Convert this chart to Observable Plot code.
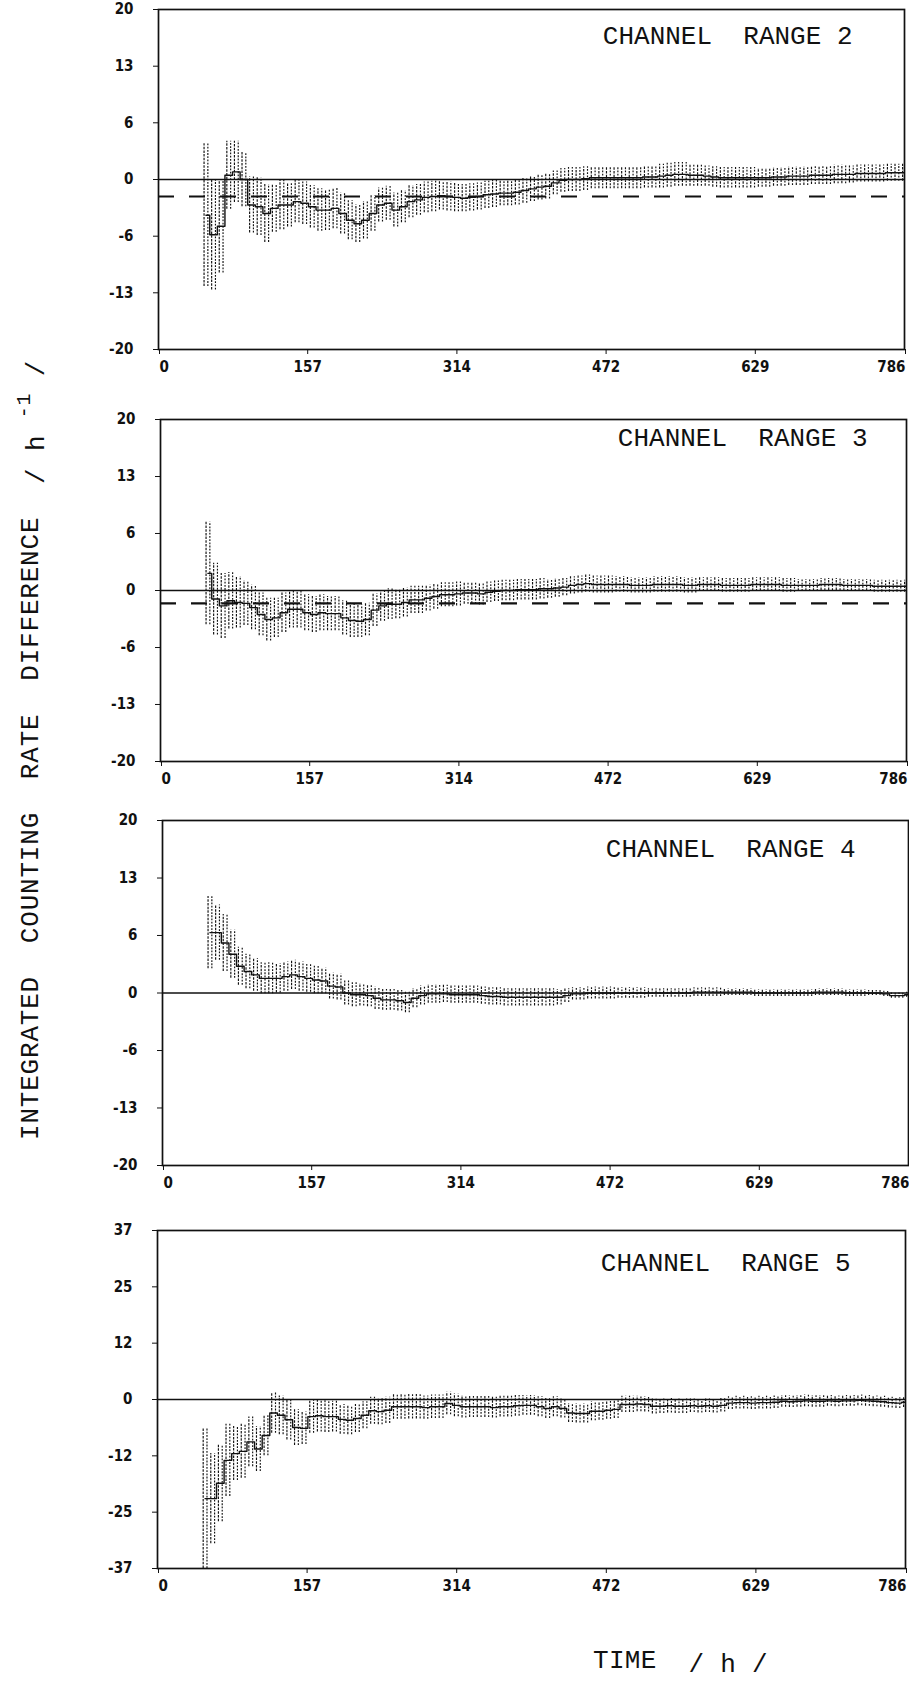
<!DOCTYPE html>
<html><head><meta charset="utf-8">
<script src="https://cdn.jsdelivr.net/npm/d3@7"></script>
<script src="https://cdn.jsdelivr.net/npm/@observablehq/plot@0.6"></script>
<style>
body{margin:0;background:#fff;}
#page{position:relative;width:909px;height:1684px;overflow:hidden;background:#fff;}
.panel{position:absolute;left:0;}
.panel svg text{white-space:pre;}
.typed{position:absolute;font-family:"Liberation Mono","DejaVu Sans Mono",monospace;font-size:26px;line-height:26px;color:#111;white-space:pre;}
#ylab{left:18px;top:1140px;transform:rotate(-90deg);transform-origin:0 0;letter-spacing:0.8px;}
#ylab .unit{position:relative;top:6px;}
#ylab sup{font-size:20px;vertical-align:0;position:relative;top:-14px;}
#xlab{left:593px;top:1648px;letter-spacing:0.3px;}
#xlab .unit{position:relative;top:4px;}
</style></head><body><div id="page"></div>
<script>
// ---- data (hours; rate difference per hour) ----
const times = [50,58,66,74,82,90,98,106,114,122,130,138,146,154,162,170,178,186,194,202,210,218,226,234,242,250,258,266,274,282,290,298,306,314,322,330,338,346,354,362,370,378,386,394,402,410,418,426,434,442,450,458,466,474,482,490,498,506,514,522,530,538,546,554,562,570,578,586,594,602,610,618,626,634,642,650,658,666,674,682,690,698,706,714,722,730,738,746,754,762,770,778,786];

const range2Center = [-4.2,-6.5,-5.5,0.5,0.9,0,-3,-3.2,-4,-3.4, -3.0,-3.0,-2.6,-2.8,-3.2,-3.6,-3.6,-3.4,-4.0,-4.8, -5.2,-4.8,-4.0,-3.0,-2.8,-3.6,-3.2,-2.6,-2.4,-2.1, -2.0,-1.9,-2.0,-2.1,-2.2,-2.1,-2.0,-1.8,-1.7,-1.6, -1.6,-1.5,-1.3,-1.1,-0.9,-0.8,-0.4,-0.1,0,0, 0.1,0.2,0.2,0.2,0.2,0.2,0.2,0.2,0.3,0.3, 0.4,0.5,0.6,0.6,0.5,0.5,0.4,0.3,0.2,0.2, 0.2,0.2,0.2,0.2,0.2,0.3,0.3,0.4,0.4,0.4, 0.5,0.5,0.5,0.6,0.6,0.6,0.7,0.7,0.7,0.7, 0.8,0.8,0.8];
const range2Error = [8.4,6.5,5.5,4.0,3.6,3.2,3.3,3.4,3.4,2.8, 2.9,2.6,2.5,2.5,2.5,2.5,2.4,2.4,2.4,2.3, 2.2,2.2,2.1,2.0,2.0,2.0,1.9,1.9,1.8,1.8, 1.8,1.7,1.7,1.7,1.6,1.6,1.6,1.6,1.6,1.5, 1.5,1.5,1.5,1.5,1.5,1.5,1.4,1.4,1.4,1.4, 1.4,1.3,1.3,1.3,1.3,1.3,1.3,1.3,1.3,1.3, 1.4,1.4,1.4,1.4,1.3,1.3,1.2,1.2,1.2,1.2, 1.2,1.2,1.2,1.1,1.1,1.1,1.1,1.1,1.1,1.1, 1.1,1.1,1.1,1.1,1.1,1.0,1.0,1.0,1.0,1.0, 1.0,1.0,1.0];

const range3Center = [2.0,-1.0,-1.8,-1.2,-1.4,-1.5,-2.0,-2.8,-3.4,-3.2, -2.6,-2.2,-2.2,-2.6,-2.8,-2.6,-2.7,-2.7,-3.2,-3.5, -3.6,-3.4,-2.3,-1.8,-1.6,-1.6,-1.4,-1.1,-1.1,-0.9, -0.7,-0.5,-0.5,-0.4,-0.3,-0.3,-0.4,-0.2,-0.1,0, 0,0.1,0.1,0.1,0.2,0.2,0.3,0.4,0.6,0.7, 0.8,0.7,0.7,0.7,0.7,0.7,0.6,0.6,0.6,0.7, 0.7,0.7,0.7,0.6,0.6,0.7,0.7,0.7,0.6,0.6, 0.6,0.6,0.7,0.7,0.7,0.7,0.6,0.6,0.6,0.6, 0.6,0.7,0.7,0.7,0.6,0.6,0.6,0.6,0.5,0.5, 0.5,0.5,0.5];
const range3Error = [6.0,4.2,3.8,3.3,3.0,2.6,2.6,2.5,2.5,2.3, 2.3,2.2,2.2,2.1,2.1,2.1,2.0,2.0,2.0,2.0, 1.9,1.9,1.9,1.8,1.8,1.7,1.7,1.6,1.6,1.5, 1.5,1.4,1.4,1.4,1.3,1.3,1.3,1.2,1.2,1.2, 1.2,1.2,1.2,1.2,1.2,1.1,1.1,1.0,1.0,1.0, 1.0,1.0,1.0,1.0,0.9,0.9,0.9,0.9,0.9,0.9, 0.9,0.9,0.9,0.9,0.9,0.8,0.8,0.8,0.8,0.8, 0.8,0.8,0.8,0.8,0.8,0.8,0.8,0.8,0.7,0.7, 0.7,0.7,0.7,0.7,0.7,0.7,0.7,0.7,0.7,0.7, 0.7,0.7,0.7];

const range4Center = [7.0,7.0,5.8,4.5,3.1,2.5,2.1,1.7,1.7,1.7, 1.9,2.1,1.9,1.7,1.5,1.4,0.8,0.7,0,-0.2, -0.2,-0.3,-0.6,-0.8,-0.8,-0.9,-1.1,-0.6,-0.3,-0.1, -0.1,-0.1,-0.2,-0.2,-0.2,-0.2,-0.3,-0.4,-0.4,-0.5, -0.5,-0.5,-0.5,-0.5,-0.5,-0.5,-0.5,-0.3,-0.1,-0.1, 0,0,0,0,0,0,0,0,0,0, 0,0,0,0,0.1,0.1,0.1,0.1,0.1,0.1, 0.1,0.1,0,0,0,0,0,0,0,0, 0.1,0.1,0.1,0.1,0,0,0,0,0,-0.1, -0.3,-0.3,-0.2];
const range4Error = [4.2,3.2,3.3,2.8,2.2,2.0,1.9,1.8,1.8,1.7, 1.7,1.7,1.7,1.6,1.6,1.5,1.5,1.5,1.4,1.4, 1.3,1.3,1.3,1.2,1.2,1.2,1.2,1.1,1.1,1.1, 1.1,1.0,1.0,1.0,1.0,1.0,1.0,1.0,1.0,1.0, 1.0,1.0,1.0,1.0,1.0,1.0,0.9,0.8,0.7,0.7, 0.7,0.7,0.7,0.7,0.6,0.6,0.6,0.6,0.5,0.5, 0.5,0.5,0.5,0.5,0.5,0.5,0.5,0.5,0.4,0.4, 0.4,0.4,0.4,0.4,0.4,0.4,0.4,0.4,0.4,0.4, 0.4,0.4,0.4,0.4,0.4,0.4,0.4,0.3,0.3,0.3, 0.3,0.3,0.3];

const range5Center = [-22,-22,-18.6,-13.5,-12,-11.5,-9.4,-11,-8,-3, -3.5,-4.5,-6.2,-6.4,-3.8,-3.6,-3.8,-3.8,-4.4,-4.6, -4.2,-3.5,-2.5,-2.7,-2.4,-1.6,-1.6,-1.6,-1.6,-1.8, -1.6,-1.6,-0.9,-1.3,-1.6,-1.6,-1.6,-1.6,-1.8,-1.6, -1.6,-1.4,-1.3,-1.3,-1.6,-2.0,-1.6,-2.0,-3.0,-3.1, -3.1,-2.6,-2.6,-2.4,-2.2,-1.1,-1.1,-1.0,-1.1,-1.5, -1.5,-1.4,-1.5,-1.5,-1.4,-1.5,-1.4,-1.5,-1.3,-0.8, -0.7,-0.7,-0.8,-0.7,-0.7,-0.6,-0.4,-0.5,-0.4,-0.3, -0.4,-0.4,-0.3,-0.4,-0.3,-0.3,-0.2,-0.3,-0.4,-0.5, -0.7,-0.8,-0.6];
const range5Error = [15.5,10,8.5,8,6,6,5.5,5,4.5,4.5, 4.3,4.5,4,3.6,3.7,3.6,3.5,3.4,3.3,3.2, 3.1,3.0,3.0,2.9,2.9,2.8,2.8,2.7,2.7,2.6, 2.6,2.6,2.5,2.5,2.5,2.4,2.4,2.4,2.3,2.3, 2.3,2.3,2.2,2.2,2.2,2.2,2.2,2.1,2.1,2.1, 2.1,2.1,2.0,2.0,2.0,1.8,1.8,1.7,1.7,1.7, 1.6,1.6,1.6,1.6,1.5,1.5,1.5,1.5,1.5,1.4, 1.4,1.4,1.4,1.4,1.4,1.4,1.3,1.3,1.3,1.3, 1.3,1.3,1.2,1.2,1.2,1.2,1.2,1.2,1.2,1.2, 1.2,1.2,1.2];

const panelTitles = ["CHANNEL  RANGE 2", "CHANNEL  RANGE 3", "CHANNEL  RANGE 4", "CHANNEL  RANGE 5"];
const referenceLevels = [-2, -1.5, null, null];   // dashed lines
const yTicksSmall = [-20, -13.33, -6.67, 0, 6.67, 13.33, 20];
const yTickLabelsSmall = ["-20", "-13", "-6", "0", "6", "13", "20"];
const yTicksLarge = [-37.5, -25, -12.5, 0, 12.5, 25, 37.5];
const yTickLabelsLarge = ["-37", "-25", "-12", "0", "12", "25", "37"];
const xTicks = [0, 157.2, 314.4, 471.6, 628.8, 786];
const xTickLabels = ["0", "157", "314", "472", "629", "786"];
const yAxisTitle = "INTEGRATED  COUNTING  RATE  DIFFERENCE  ";
const yAxisUnit = ["/ h ", "-1", " /"];
const xAxisTitle = "TIME  ";
const xAxisUnit = "/ h /";

// ---- layout ----
const series = [
  {center: range2Center, error: range2Error, ticks: yTicksSmall, labels: yTickLabelsSmall, top: 0,    mt: 9,  inner: 340, ml: 158, mr: 5, tdx: -52, tdy: 16},
  {center: range3Center, error: range3Error, ticks: yTicksSmall, labels: yTickLabelsSmall, top: 400,  mt: 19, inner: 342, ml: 160, mr: 3, tdx: -39, tdy: 8},
  {center: range4Center, error: range4Error, ticks: yTicksSmall, labels: yTickLabelsSmall, top: 800,  mt: 20, inner: 345, ml: 162, mr: 1, tdx: -53, tdy: 18},
  {center: range5Center, error: range5Error, ticks: yTicksLarge, labels: yTickLabelsLarge, top: 1210, mt: 20, inner: 338, ml: 157, mr: 4, tdx: -55, tdy: 22}
];
const narrow = "'Liberation Sans Narrow','Arial Narrow','DejaVu Sans Condensed',sans-serif";
const mono = "'Liberation Mono','DejaVu Sans Mono',monospace";
const ink = "#111";
const page = document.getElementById("page");
const xLabelMap = new Map(xTicks.map((v, i) => [v, xTickLabels[i]]));
const xFirst = xTicks.slice(0, 1), xMiddle = xTicks.slice(1, -1), xLast = xTicks.slice(-1);

series.forEach((p, k) => {
  const rows = times.map((t, i) => ({t, c: p.center[i], lo: p.center[i] - p.error[i], hi: p.center[i] + p.error[i]}));
  const yLabelMap = new Map(p.ticks.map((v, i) => [v, p.labels[i]]));
  const ymax = p.ticks[p.ticks.length - 1];
  const xAxisOpts = {tickSize: 5, tickPadding: 7, tickFormat: d => xLabelMap.get(d), fontSize: 15, fontFamily: narrow, fontWeight: "bold", label: null};
  const marks = [
    Plot.ruleY([0], {stroke: ink, strokeWidth: 1.4}),
    Plot.ruleX(rows, {x: "t", y1: "lo", y2: "hi", stroke: ink, strokeWidth: 1.15, strokeDasharray: "2.5,1.2", dx: -1.9, clip: true}),
    Plot.ruleX(rows, {x: "t", y1: "lo", y2: "hi", stroke: ink, strokeWidth: 1.15, strokeDasharray: "1.8,1.4", dx: 1.9, clip: true}),
    Plot.line(rows, {x: "t", y: "c", curve: "step", stroke: ink, strokeWidth: 1.4, clip: true}),
    Plot.frame({stroke: ink, strokeWidth: 1.7}),
    Plot.axisY(p.ticks, {tickSize: 5, tickPadding: 20, tickFormat: d => yLabelMap.get(d), fontSize: 15, fontFamily: narrow, fontWeight: "bold", label: null}),
    Plot.axisX(xFirst, {...xAxisOpts, textAnchor: "start", dx: 1}),
    Plot.axisX(xMiddle, xAxisOpts),
    Plot.axisX(xLast, {...xAxisOpts, textAnchor: "end", dx: 1}),
    Plot.text([panelTitles[k]], {frameAnchor: "top-right", textAnchor: "end", lineAnchor: "top", dx: p.tdx, dy: p.tdy, fontSize: 26, fontFamily: mono, fill: ink})
  ];
  if (referenceLevels[k] !== null) {
    marks.splice(1, 0, Plot.ruleY([referenceLevels[k]], {stroke: ink, strokeWidth: 2.2, strokeDasharray: "16,15"}));
  }
  const svg = Plot.plot({
    width: 909,
    height: p.mt + p.inner + 35,
    marginTop: p.mt, marginBottom: 35, marginLeft: p.ml, marginRight: p.mr,
    x: {domain: [0, 786]},
    y: {domain: [-ymax, ymax]},
    style: {background: "#fff", color: ink, overflow: "visible"},
    marks
  });
  const wrap = document.createElement("div");
  wrap.className = "panel";
  wrap.style.top = p.top + "px";
  wrap.appendChild(svg);
  page.appendChild(wrap);
});

const yl = document.createElement("div");
yl.className = "typed"; yl.id = "ylab";
yl.appendChild(document.createTextNode(yAxisTitle));
const unit = document.createElement("span");
unit.className = "unit";
unit.appendChild(document.createTextNode(yAxisUnit[0]));
const sup = document.createElement("sup");
sup.textContent = yAxisUnit[1];
unit.appendChild(sup);
unit.appendChild(document.createTextNode(yAxisUnit[2]));
yl.appendChild(unit);
page.appendChild(yl);

const xl = document.createElement("div");
xl.className = "typed"; xl.id = "xlab";
xl.appendChild(document.createTextNode(xAxisTitle));
const xunit = document.createElement("span");
xunit.className = "unit";
xunit.textContent = xAxisUnit;
xl.appendChild(xunit);
page.appendChild(xl);
</script></body></html>
